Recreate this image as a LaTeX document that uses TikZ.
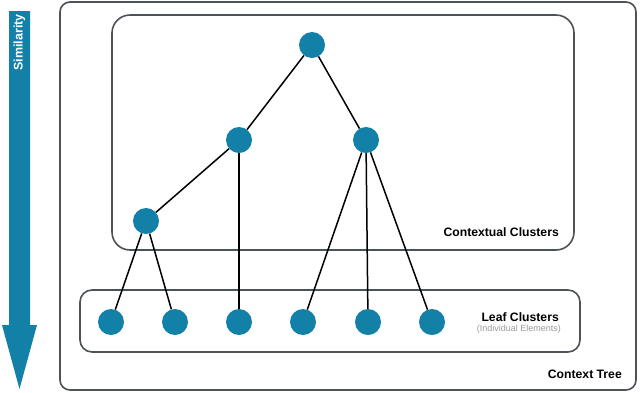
\documentclass[tikz,border=0pt]{standalone}
\usepackage{fontspec}
\setmainfont{Liberation Sans}
\begin{document}
\begin{tikzpicture}[x=1pt,y=-1pt,
  frame/.style={draw=boxgray,line width=1.6pt,rounded corners=#1},
  leafnode/.style={circle,fill=simblue,inner sep=0pt,minimum size=26pt},
  edge/.style={line width=1.5pt,black},
  lbl/.style={font=\bfseries\fontsize{12.2}{14}\selectfont,inner sep=0pt}]
\definecolor{simblue}{HTML}{1380A8}
\definecolor{boxgray}{HTML}{4D5257}
\useasboundingbox (0,0) rectangle (640,392);
% arrow
\fill[simblue] (9,11) -- (30,11) -- (30,325) -- (37,325) -- (19.5,389) -- (2,325) -- (9,325) -- cycle;
\node[rotate=90,anchor=east,text=white,font=\bfseries\fontsize{12.5}{14}\selectfont,inner sep=0pt] (sim) at (19.5,14) {Similarity};
% boxes
\draw[frame=10pt] (60,2) rectangle (636,390);
\draw[frame=18pt] (112,15) rectangle (574,250);
\draw[frame=12pt] (80,290) rectangle (580,352);
\node[lbl,anchor=east] (cc) at (559,232) {Contextual Clusters};
\node[lbl,anchor=east] (lc) at (559,317) {Leaf Clusters};
\node[anchor=east,inner sep=0pt,font=\fontsize{9}{10}\selectfont,text=gray!80] (ie) at (561,329) {(Individual Elements)};
\node[lbl,anchor=east] (ct) at (622,374) {Context Tree};
% nodes
\node[leafnode] (r) at (312,45) {};
\node[leafnode] (a) at (239,140) {};
\node[leafnode] (b) at (366,140) {};
\node[leafnode] (c) at (146,221) {};
\foreach \i/\x in {1/111,2/175,3/239,4/303,5/368,6/432}
  \node[leafnode] (l\i) at (\x,322) {};
% edges
\draw[edge] (r) -- (a);
\draw[edge] (r) -- (b);
\draw[edge] (a) -- (c);
\draw[edge] (a) -- (l3);
\draw[edge] (c) -- (l1);
\draw[edge] (c) -- (l2);
\draw[edge] (b) -- (l4);
\draw[edge] (b) -- (l5);
\draw[edge] (b) -- (l6);
\end{tikzpicture}
\end{document}
